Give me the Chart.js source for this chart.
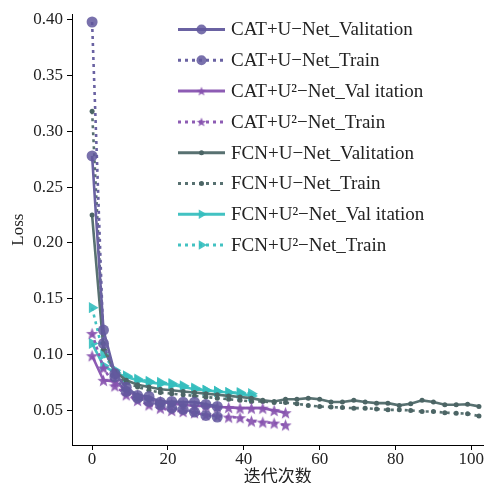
<!DOCTYPE html>
<html>
<head>
<meta charset="utf-8">
<script src="https://cdn.jsdelivr.net/npm/chart.js@4"></script>
<style>
  html, body { margin: 0; padding: 0; background: #fff; }
  #wrap { width: 490px; height: 483px; }
</style>
</head>
<body>
<div id="wrap"><canvas id="myChart" width="490" height="483"></canvas></div>
<script>
// epochs (x values), every 3 iterations
var epochs = [0, 3, 6, 9, 12, 15, 18, 21, 24, 27, 30, 33, 36, 39, 42, 45, 48, 51, 54, 57,
              60, 63, 66, 69, 72, 75, 78, 81, 84, 87, 90, 93, 96, 99, 102];

var catUNetVal   = [0.278, 0.122, 0.083, 0.0708, 0.0634, 0.0625, 0.0574, 0.058, 0.0574, 0.0574, 0.0554, 0.0536];
var catUNetTrain = [0.398, 0.110, 0.080, 0.067, 0.061, 0.058, 0.055, 0.052, 0.051, 0.0485, 0.0455, 0.044];

var catU2Val   = [0.099, 0.077, 0.076, 0.068, 0.063, 0.060, 0.058, 0.056, 0.055, 0.054, 0.054, 0.053,
                  0.0527, 0.052, 0.052, 0.052, 0.050, 0.048];
var catU2Train = [0.119, 0.088, 0.072, 0.064, 0.059, 0.055, 0.052, 0.050, 0.049, 0.048, 0.046, 0.045,
                  0.044, 0.0435, 0.0405, 0.0395, 0.0387, 0.037];

var fcnUNetVal = [0.225, 0.105, 0.085, 0.077, 0.073, 0.071, 0.069, 0.068, 0.067, 0.066, 0.065, 0.064,
                  0.063, 0.062, 0.061, 0.059, 0.058, 0.060, 0.060, 0.061, 0.060, 0.0575, 0.0575, 0.059,
                  0.0575, 0.0565, 0.0565, 0.0545, 0.056, 0.059, 0.0575, 0.055, 0.055, 0.0555, 0.0536];
var fcnUNetTrain = [0.318, 0.110, 0.083, 0.075, 0.071, 0.068, 0.066, 0.065, 0.064, 0.063, 0.062, 0.061,
                    0.060, 0.059, 0.058, 0.058, 0.057, 0.057, 0.056, 0.0545, 0.0535, 0.053, 0.0525, 0.052,
                    0.052, 0.0513, 0.0505, 0.0505, 0.050, 0.049, 0.049, 0.048, 0.0475, 0.047, 0.045];

var fcnU2Val   = [0.110, 0.090, 0.084, 0.080, 0.077, 0.075, 0.074, 0.073, 0.071, 0.069, 0.068, 0.067,
                  0.066, 0.065, 0.063];
var fcnU2Train = [0.142, 0.100, 0.086, 0.081, 0.078, 0.076, 0.075, 0.074, 0.072, 0.070, 0.068, 0.067,
                  0.066, 0.066, 0.065];

var xTicks = [0, 20, 40, 60, 80, 100];
var yTicks = [0.05, 0.10, 0.15, 0.20, 0.25, 0.30, 0.35, 0.40];

var serif = "'Liberation Serif', 'Times New Roman', 'Noto Sans CJK SC', serif";

// filled five-point star as a point image
function starImage(r, color) {
    var size = Math.ceil(r * 2) + 2;
    var cv = document.createElement('canvas');
    cv.width = size; cv.height = size;
    var g = cv.getContext('2d');
    var cx = size / 2, cy = size / 2 + r * 0.1;
    g.fillStyle = color;
    g.beginPath();
    for (var i = 0; i < 10; i++) {
        var rr = i % 2 === 0 ? r : r * 0.42;
        var a = -Math.PI / 2 + i * Math.PI / 5;
        var px = cx + rr * Math.cos(a), py = cy + rr * Math.sin(a);
        if (i === 0) g.moveTo(px, py); else g.lineTo(px, py);
    }
    g.closePath();
    g.fill();
    return cv;
}

function pts(values) {
    return values.map(function (v, i) { return { x: epochs[i], y: v }; });
}

function series(label, values, color, fill, style, radius, dashed, rot) {
    return {
        label: label,
        data: pts(values),
        borderColor: color,
        backgroundColor: fill,
        pointBackgroundColor: fill,
        pointBorderColor: fill,
        pointBorderWidth: 0,
        pointStyle: style,
        pointRadius: radius,
        pointRotation: rot || 0,
        borderWidth: 2.6,
        borderDash: dashed ? [3, 4] : [],
        tension: 0,
        fill: false
    };
}

var purple = 'rgba(135,82,175,0.92)';
var starBig = starImage(6.5, purple);
var starSmall = starImage(5, purple);

// legend drawn inside the plot, top right
var innerLegend = {
    id: 'innerLegend',
    afterDraw: function (chart) {
        var c = chart.ctx;
        var area = chart.chartArea;
        var x0 = area.left + 106, x1 = area.left + 153, tx = area.left + 159;
        var y = 29.5;
        chart.data.datasets.forEach(function (ds) {
            c.save();
            c.strokeStyle = ds.borderColor;
            c.lineWidth = 3;
            c.setLineDash(ds.borderDash);
            c.beginPath();
            c.moveTo(x0, y);
            c.lineTo(x1, y);
            c.stroke();
            c.setLineDash([]);
            c.fillStyle = ds.pointBackgroundColor;
            c.strokeStyle = ds.pointBorderColor;
            Chart.helpers.drawPoint(c, {
                pointStyle: ds.legendStyle || ds.pointStyle,
                radius: ds.legendRadius,
                rotation: ds.pointRotation,
                borderWidth: 0
            }, (x0 + x1) / 2, y);
            c.fillStyle = '#222';
            c.font = '19px ' + serif;
            c.textAlign = 'left';
            c.textBaseline = 'middle';
            c.fillText(ds.label, tx, y + 1);
            c.restore();
            y += 30.8;
        });
    }
};

var datasets = [
    series('CAT+U\u2212Net_Valitation', catUNetVal, '#6a62a2', 'rgba(98,88,158,0.85)', 'circle', 5.5, false),
    series('CAT+U\u2212Net_Train', catUNetTrain, '#6a62a2', 'rgba(98,88,158,0.85)', 'circle', 5.5, true),
    series('CAT+U\u00b2\u2212Net_Val itation', catU2Val, '#8d5cb4', purple, starBig, 6, false),
    series('CAT+U\u00b2\u2212Net_Train', catU2Train, '#8d5cb4', purple, starBig, 6, true),
    series('FCN+U\u2212Net_Valitation', fcnUNetVal, '#587171', '#4c6565', 'circle', 2.5, false),
    series('FCN+U\u2212Net_Train', fcnUNetTrain, '#587171', '#4c6565', 'circle', 2.5, true),
    series('FCN+U\u00b2\u2212Net_Val itation', fcnU2Val, '#42c2c2', 'rgba(52,190,190,0.9)', 'triangle', 6.5, false, 90),
    series('FCN+U\u00b2\u2212Net_Train', fcnU2Train, '#42c2c2', 'rgba(52,190,190,0.9)', 'triangle', 6.5, true, 90)
];
var legendRadii = [5, 5, 5, 5, 2.5, 2.5, 5.5, 5.5];
datasets.forEach(function (ds, i) { ds.legendRadius = legendRadii[i]; });
datasets[2].legendStyle = starSmall;
datasets[3].legendStyle = starSmall;

var ctx = document.getElementById('myChart').getContext('2d');
var myChart = new Chart(ctx, {
    type: 'line',
    data: { datasets: datasets },
    options: {
        responsive: false,
        animation: false,
        layout: { padding: { left: 0, top: 8, right: 0, bottom: 0 } },
        plugins: {
            legend: { display: false },
            tooltip: { enabled: false }
        },
        scales: {
            x: {
                type: 'linear',
                min: -5.3,
                max: 103.2,
                afterBuildTicks: function (axis) {
                    axis.ticks = xTicks.map(function (v) { return { value: v }; });
                },
                afterFit: function (axis) { axis.height = 38; },
                grid: { drawOnChartArea: false, tickLength: 5, color: '#000', tickColor: '#000' },
                border: { color: '#000', width: 1 },
                ticks: { color: '#222', font: { family: serif, size: 17 }, padding: -1, maxRotation: 0 },
                title: { display: true, text: '迭代次数', color: '#222', font: { family: serif, size: 17 }, padding: { top: 0, bottom: -5 } }
            },
            y: {
                type: 'linear',
                min: 0.019,
                max: 0.405,
                afterBuildTicks: function (axis) {
                    axis.ticks = yTicks.map(function (v) { return { value: v }; });
                },
                afterFit: function (axis) { axis.width = 72; },
                grid: { drawOnChartArea: false, tickLength: 5, color: '#000', tickColor: '#000' },
                border: { color: '#000', width: 1 },
                ticks: {
                    color: '#222', font: { family: serif, size: 17 }, padding: 4,
                    callback: function (v) { return v.toFixed(2); }
                },
                title: { display: true, text: 'Loss', color: '#222', font: { family: serif, size: 17 }, padding: { top: 8, bottom: 0 } }
            }
        }
    },
    plugins: [innerLegend]
});
</script>
</body>
</html>
